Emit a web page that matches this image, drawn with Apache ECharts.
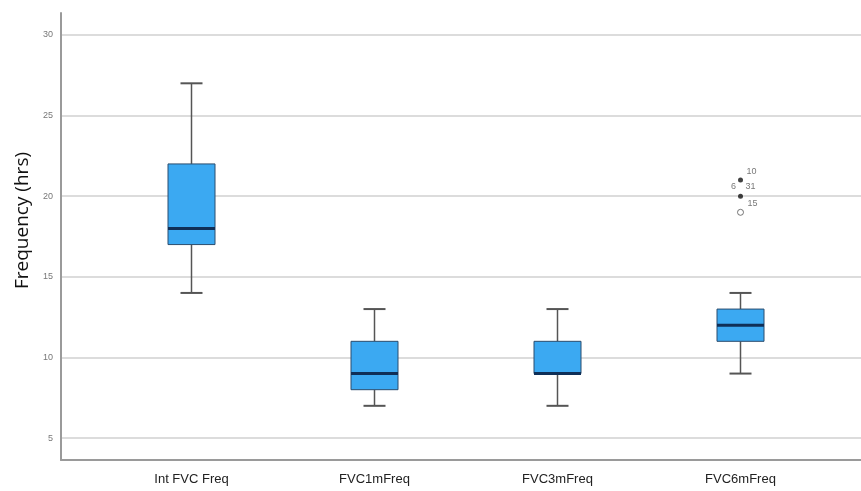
<!DOCTYPE html>
<html><head><meta charset="utf-8">
<script src="https://cdn.jsdelivr.net/npm/echarts@6/dist/echarts.min.js"></script>
<style>html,body{margin:0;padding:0;background:#fff}#c{width:861px;height:491px}</style>
</head><body><div id="c"></div>
<script>
// ---- data ----
var categories = ['Int FVC Freq', 'FVC1mFreq', 'FVC3mFreq', 'FVC6mFreq'];
var whiskerLow = [14, 7, 7, 9];
var q1 = [17, 8, 9, 11];
var median = [18, 9, 9, 12];
var q3 = [22, 11, 11, 13];
var whiskerHigh = [27, 13, 13, 14];
// outliers of FVC6mFreq
var outlierCat = [3, 3, 3];
var outlierVal = [21, 20, 19];
var outlierId1 = ['10', '15', ''];
var outlierId2 = ['6', '31', ''];
var outlierFilled = [true, true, false];
var yTicks = [5, 10, 15, 20, 25, 30];
var yMin = 3.64, yMax = 31.36;

var boxData = categories.map(function (c, i) {
  return [i, whiskerLow[i], q1[i], median[i], q3[i], whiskerHigh[i]];
});

var chart = echarts.init(document.getElementById('c'), null, {renderer: 'canvas'});

function renderBox(params, api) {
  var i = api.value(0);
  var pLow = api.coord([i, api.value(1)]);
  var pQ1 = api.coord([i, api.value(2)]);
  var pMed = api.coord([i, api.value(3)]);
  var pQ3 = api.coord([i, api.value(4)]);
  var pHigh = api.coord([i, api.value(5)]);
  var cx = pMed[0];
  var hw = 23.5, cw = 11;
  var lineStyle = {stroke: '#555', lineWidth: 1.5};
  return {
    type: 'group',
    children: [
      {type: 'line', shape: {x1: cx, y1: pHigh[1], x2: cx, y2: pQ3[1]}, style: lineStyle},
      {type: 'line', shape: {x1: cx, y1: pQ1[1], x2: cx, y2: pLow[1]}, style: lineStyle},
      {type: 'line', shape: {x1: cx - cw, y1: pHigh[1], x2: cx + cw, y2: pHigh[1]}, style: {stroke: '#555', lineWidth: 2}},
      {type: 'line', shape: {x1: cx - cw, y1: pLow[1], x2: cx + cw, y2: pLow[1]}, style: {stroke: '#555', lineWidth: 2}},
      {type: 'rect', shape: {x: cx - hw, y: pQ3[1], width: hw * 2, height: pQ1[1] - pQ3[1]},
        style: {fill: '#3ba9f2', stroke: '#2b4d6e', lineWidth: 1}},
      {type: 'line', shape: {x1: cx - hw, y1: pMed[1], x2: cx + hw, y2: pMed[1]},
        style: {stroke: '#0f2f57', lineWidth: 3}}
    ]
  };
}

var filledPts = [], openPts = [], idPts = [], idShift = [];
outlierVal.forEach(function (v, i) {
  var p = [outlierCat[i], v];
  if (outlierFilled[i]) filledPts.push(p); else openPts.push(p);
  if (outlierId1[i]) { idPts.push({value: p, name: outlierId1[i]}); idShift.push(i === 0 ? [11, -9] : [12, 7]); }
  if (outlierId2[i]) { idPts.push({value: p, name: outlierId2[i]}); idShift.push(i === 0 ? [-7, 6] : [10, -10]); }
});

chart.setOption({
  animation: false,
  backgroundColor: '#fff',
  grid: [
    {left: 61, right: 0, top: 13, bottom: 31},
    {left: 100, right: 29, top: 13, bottom: 31}
  ],
  xAxis: [
    {type: 'value', gridIndex: 0, min: 0, max: 1, axisLine: {show: true, onZero: false, lineStyle: {color: '#9a9a9a', width: 2}},
      axisTick: {show: false}, axisLabel: {show: false}, splitLine: {show: false}},
    {type: 'category', gridIndex: 1, data: categories, axisLine: {show: false}, axisTick: {show: false},
      axisLabel: {margin: 13, fontSize: 13, color: '#222', fontFamily: 'Liberation Sans'}, splitLine: {show: false}}
  ],
  yAxis: [
    {type: 'value', gridIndex: 0, min: yMin, max: yMax,
      name: 'Frequency (hrs)', nameLocation: 'middle', nameGap: 29,
      nameTextStyle: {fontSize: 19, color: '#111', fontFamily: 'Open Sans', padding: [0, 0, 0, 32]},
      axisLine: {show: true, lineStyle: {color: '#9a9a9a', width: 2}},
      axisTick: {show: false, customValues: yTicks},
      axisLabel: {customValues: yTicks, fontSize: 9, color: '#777', margin: 8, fontFamily: 'Liberation Sans'},
      splitLine: {show: true, lineStyle: {color: '#dcdcdc', width: 2}}},
    {type: 'value', gridIndex: 1, min: yMin, max: yMax, show: false, splitLine: {show: false}}
  ],
  series: [
    {type: 'custom', xAxisIndex: 1, yAxisIndex: 1, renderItem: renderBox, data: boxData, z: 3},
    {type: 'scatter', xAxisIndex: 1, yAxisIndex: 1, data: filledPts, symbol: 'circle', symbolSize: 5,
      itemStyle: {color: '#111'}, z: 4},
    {type: 'scatter', xAxisIndex: 1, yAxisIndex: 1, data: openPts, symbol: 'circle', symbolSize: 6,
      itemStyle: {color: '#fff', borderColor: '#555', borderWidth: 1}, z: 4},
    {type: 'scatter', xAxisIndex: 1, yAxisIndex: 1, data: idPts, symbol: 'circle', symbolSize: 1,
      itemStyle: {color: 'rgba(0,0,0,0)'},
      label: {show: true, position: 'inside', formatter: '{b}', fontSize: 9, color: '#555', fontFamily: 'Liberation Sans'},
      labelLayout: function (params) {
        var s = idShift[params.dataIndex];
        return {dx: s[0], dy: s[1], hideOverlap: false};
      }, z: 5}
  ]
});
</script></body></html>
